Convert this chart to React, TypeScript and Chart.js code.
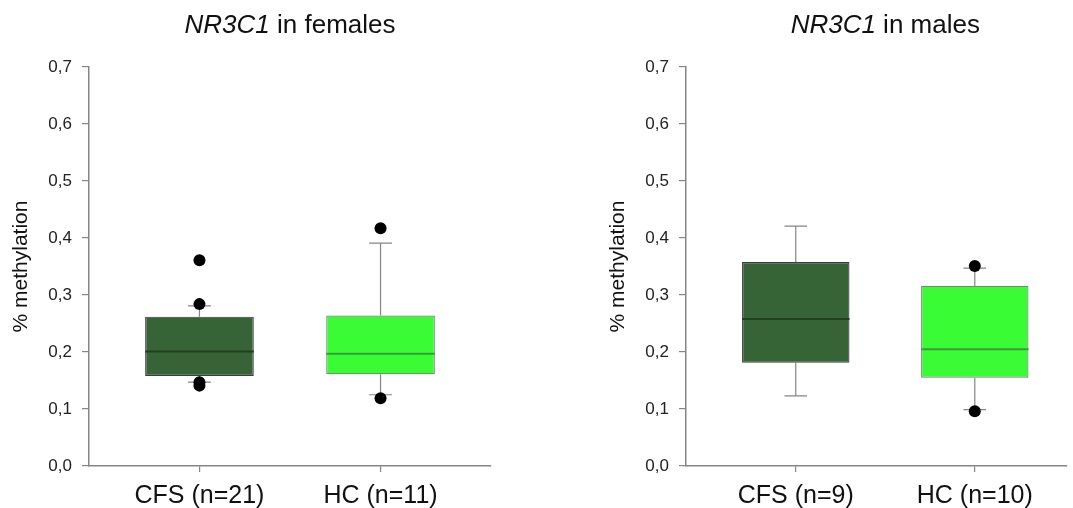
import React, { useEffect, useRef } from 'react';
import { Chart, registerables } from 'chart.js';

Chart.register(...registerables);

// ---- data ----
const groupPositions = [0, 1];
const femaleLabels = ['CFS (n=21)', 'HC (n=11)'];
const maleLabels = ['CFS (n=9)', 'HC (n=10)'];
const yTickValues = [0, 0.1, 0.2, 0.3, 0.4, 0.5, 0.6, 0.7];

// females: [CFS, HC]
const femaleQ1 = [0.158, 0.161];
const femaleMedian = [0.201, 0.197];
const femaleQ3 = [0.262, 0.264];
const femaleLow = [0.147, 0.125];
const femaleHigh = [0.281, 0.391];
const femaleOutliersCFS = [0.361, 0.284, 0.147, 0.141];
const femaleOutliersHC = [0.417, 0.119];

// males: [CFS, HC]
const maleQ1 = [0.181, 0.155];
const maleMedian = [0.258, 0.205];
const maleQ3 = [0.358, 0.316];
const maleLow = [0.123, 0.099];
const maleHigh = [0.421, 0.347];
const maleOutliersCFS: number[] = [];
const maleOutliersHC = [0.351, 0.096];

// ---- styles ----
const boxFill = ['#376437', '#39fc35'];
const boxBorder = ['#3c3c3c', '#6f8f6f'];
const medianColor = ['#213f21', '#3d9b3d'];
const whiskerColor = '#858585';
const axisColor = '#858585';
const FONT = '"Liberation Sans", Arial, sans-serif';

type PanelProps = {
  titleItalic: string;
  titleRest: string;
  labels: string[];
  q1: number[];
  med: number[];
  q3: number[];
  low: number[];
  high: number[];
  outliers: number[][];
  xMin: number;
  xMax: number;
  rightPad: number;
};

function titlePlugin(italic: string, rest: string) {
  return {
    id: 'mixedTitle',
    afterDraw(chart: any) {
      const ctx = chart.ctx;
      const xs = chart.scales.x;
      const cx = xs.getPixelForValue(0.5);
      ctx.save();
      ctx.fillStyle = '#111';
      ctx.textBaseline = 'middle';
      ctx.textAlign = 'left';
      const fItalic = `italic 26px ${FONT}`;
      const fNormal = `26px ${FONT}`;
      ctx.font = fItalic;
      const w1 = ctx.measureText(italic).width;
      ctx.font = fNormal;
      const w2 = ctx.measureText(rest).width;
      const x0 = cx - (w1 + w2) / 2;
      ctx.font = fItalic;
      ctx.fillText(italic, x0, 26);
      ctx.font = fNormal;
      ctx.fillText(rest, x0 + w1, 26);
      ctx.restore();
    },
  };
}

function Panel(props: PanelProps & { left: number; width: number }) {
  const ref = useRef<HTMLCanvasElement>(null);
  useEffect(() => {
    if (!ref.current) return;
    const cap = 0.063;
    const half = 0.3;
    const whisker: any[] = [];
    groupPositions.forEach((x, i) => {
      whisker.push({ x, y: props.q3[i] }, { x, y: props.high[i] }, { x, y: null });
      whisker.push({ x: x - cap, y: props.high[i] }, { x: x + cap, y: props.high[i] }, { x, y: null });
      whisker.push({ x, y: props.q1[i] }, { x, y: props.low[i] }, { x, y: null });
      whisker.push({ x: x - cap, y: props.low[i] }, { x: x + cap, y: props.low[i] }, { x, y: null });
    });
    const medianSets = groupPositions.map((x, i) => ({
      type: 'line',
      data: [
        { x: x - half, y: props.med[i] },
        { x: x + half, y: props.med[i] },
      ],
      borderColor: medianColor[i],
      borderWidth: 2,
      pointRadius: 0,
      order: 1,
    }));
    const outlierPts: any[] = [];
    props.outliers.forEach((arr, i) => arr.forEach((v) => outlierPts.push({ x: groupPositions[i], y: v })));

    const chart = new Chart(ref.current, {
      type: 'bar',
      data: {
        datasets: [
          {
            type: 'scatter',
            data: outlierPts,
            pointRadius: 6,
            pointBackgroundColor: '#000',
            pointBorderWidth: 0,
            order: 0,
          } as any,
          ...(medianSets as any[]),
          {
            type: 'line',
            data: whisker,
            borderColor: whiskerColor,
            borderWidth: 1.2,
            pointRadius: 0,
            spanGaps: false,
            order: 2,
          } as any,
          {
            type: 'bar',
            data: groupPositions.map((x, i) => ({ x, y: [props.q1[i], props.q3[i]] })),
            backgroundColor: boxFill,
            borderColor: boxBorder,
            borderWidth: 1.2,
            borderSkipped: false,
            barPercentage: 0.6,
            categoryPercentage: 1,
            order: 3,
          } as any,
        ],
      },
      options: {
        animation: false,
        responsive: false,
        events: [],
        layout: { padding: { top: 67, right: props.rightPad, left: 0, bottom: 0 } },
        plugins: {
          legend: { display: false },
          tooltip: { enabled: false },
          title: { display: false },
        },
        scales: {
          x: {
            type: 'linear',
            offset: false,
            min: props.xMin,
            max: props.xMax,
            afterBuildTicks: (s: any) => {
              s.ticks = groupPositions.map((v) => ({ value: v }));
            },
            afterFit: (s: any) => {
              s.height = 42;
            },
            ticks: {
              autoSkip: false,
              maxRotation: 0,
              padding: 9,
              color: '#111',
              font: { family: FONT, size: 25 },
              callback: (_v: any, idx: number) => props.labels[idx],
            },
            grid: {
              offset: false,
              drawOnChartArea: false,
              drawTicks: true,
              tickLength: 6,
              color: axisColor,
              lineWidth: 1.2,
            },
            border: { display: true, color: axisColor, width: 1.5 },
          },
          y: {
            type: 'linear',
            min: 0,
            max: 0.7,
            afterBuildTicks: (s: any) => {
              s.ticks = yTickValues.map((v) => ({ value: v }));
            },
            afterFit: (s: any) => {
              s.width = 89;
            },
            ticks: {
              padding: 10,
              color: '#222',
              font: { family: FONT, size: 17 },
              callback: (v: any) => Number(v).toFixed(1).replace('.', ','),
            },
            grid: { drawOnChartArea: false, drawTicks: true, tickLength: 7, color: axisColor, lineWidth: 1.2 },
            border: { display: true, color: axisColor, width: 1.5 },
            title: {
              display: true,
              text: '% methylation',
              color: '#111',
              font: { family: FONT, size: 21 },
              padding: { top: 9, bottom: 0 },
            },
          },
        },
      } as any,
      plugins: [titlePlugin(props.titleItalic, props.titleRest)],
    });
    return () => chart.destroy();
  }, []);
  return (
    <canvas
      ref={ref}
      width={props.width}
      height={508}
      style={{ position: 'absolute', left: props.left, top: 0, width: props.width, height: 508, display: 'block' }}
    />
  );
}

export default function App() {
  return (
    <div
      style={{
        position: 'fixed',
        left: 0,
        top: 0,
        width: 1073,
        height: 508,
        overflow: 'hidden',
        background: '#fff',
      }}
    >
      <Panel
        left={0}
        width={536}
        titleItalic="NR3C1"
        titleRest=" in females"
        labels={femaleLabels}
        q1={femaleQ1}
        med={femaleMedian}
        q3={femaleQ3}
        low={femaleLow}
        high={femaleHigh}
        outliers={[femaleOutliersCFS, femaleOutliersHC]}
        xMin={-0.61}
        xMax={1.61}
        rightPad={45}
      />
      <Panel
        left={597}
        width={476}
        titleItalic="NR3C1"
        titleRest=" in males"
        labels={maleLabels}
        q1={maleQ1}
        med={maleMedian}
        q3={maleQ3}
        low={maleLow}
        high={maleHigh}
        outliers={[maleOutliersCFS, maleOutliersHC]}
        xMin={-0.613}
        xMax={1.515}
        rightPad={0}
      />
    </div>
  );
}
